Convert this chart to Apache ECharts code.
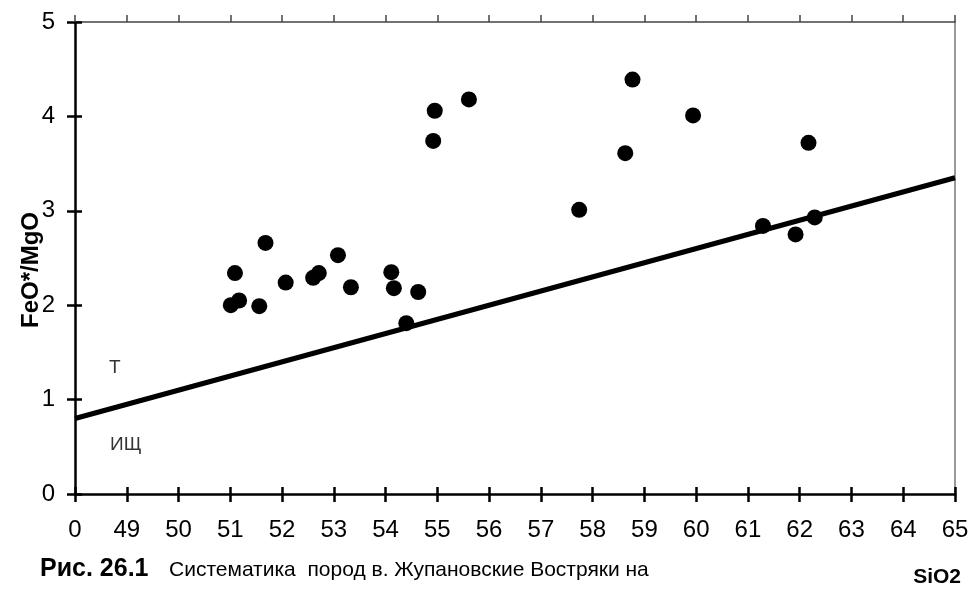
<!DOCTYPE html>
<html>
<head>
<meta charset="utf-8">
<script src="https://cdn.jsdelivr.net/npm/echarts@6/dist/echarts.min.js"></script>
<style>
  html, body { margin: 0; padding: 0; background: #fff; }
  #chart { width: 972px; height: 590px; }
</style>
</head>
<body>
<div id="chart"></div>
<script>
// SiO2 / FeO*/MgO samples
var sio2 = [51.01, 51.09, 51.17, 51.56, 51.68, 52.07, 52.6, 52.71, 53.08, 53.33,
            54.11, 54.16, 54.4, 54.63, 54.92, 54.95, 55.61, 57.74, 58.63, 58.77,
            59.94, 61.29, 61.92, 62.17, 62.29];
var feoMgo = [2.0, 2.34, 2.05, 1.99, 2.66, 2.24, 2.29, 2.34, 2.53, 2.19,
              2.35, 2.18, 1.81, 2.14, 3.74, 4.06, 4.18, 3.01, 3.61, 4.39,
              4.01, 2.84, 2.75, 3.72, 2.93];

// граница толеитовой (Т) и известково-щелочной (ИЩ) серий
var borderX = [48, 65];
var borderY = [0.8, 3.35];

var zoneNames = ['Т', 'ИЩ'];
var zoneX = [48.77, 48.98];
var zoneY = [1.34, 0.52];

var font = 'Liberation Sans, Arial, sans-serif';

var points = sio2.map(function (x, i) { return [x, feoMgo[i]]; });
var border = borderX.map(function (x, i) { return [x, borderY[i]]; });
var zones = zoneNames.map(function (n, i) { return { value: [zoneX[i], zoneY[i]], name: n }; });

var chart = echarts.init(document.getElementById('chart'));

chart.setOption({
    animation: false,
    backgroundColor: '#fff',
    grid: { left: 75, right: 17, top: 22, bottom: 96 },
    xAxis: [
        {
            type: 'value', position: 'bottom', min: 48, max: 65, interval: 1,
            axisLine: { onZero: false, lineStyle: { color: '#000', width: 2.5 } },
            axisTick: { length: 8, lineStyle: { color: '#000', width: 2.5 } },
            splitLine: { show: false },
            axisLabel: {
                color: '#000', fontSize: 24, fontFamily: font, margin: 24,
                formatter: function (v) { return v === 48 ? '0' : String(v); }
            }
        },
        {
            type: 'value', position: 'bottom', min: 48, max: 65, interval: 1,
            axisLine: { show: false },
            axisTick: { inside: true, length: 7, lineStyle: { color: '#000', width: 2.5 } },
            splitLine: { show: false }, axisLabel: { show: false }
        },
        {
            type: 'value', position: 'top', min: 48, max: 65, interval: 1,
            axisLine: { onZero: false, lineStyle: { color: '#444', width: 1.5 } },
            axisTick: { length: 7, lineStyle: { color: '#444', width: 1.5 } },
            splitLine: { show: false }, axisLabel: { show: false }
        }
    ],
    yAxis: [
        {
            type: 'value', position: 'left', min: 0, max: 5, interval: 1,
            name: 'FeO*/MgO', nameLocation: 'middle', nameGap: 32, nameRotate: 90,
            nameMoveOverlap: false,
            nameTextStyle: {
                color: '#000', fontSize: 24, fontWeight: 'bold', fontFamily: font,
                padding: [0, 24, 0, 0]
            },
            axisLine: { onZero: false, lineStyle: { color: '#000', width: 2.5 } },
            axisTick: { length: 8, lineStyle: { color: '#000', width: 2.5 } },
            splitLine: { show: false },
            axisLabel: { color: '#000', fontSize: 24, fontFamily: font, margin: 20 }
        },
        {
            type: 'value', position: 'left', min: 0, max: 5, interval: 1,
            axisLine: { show: false },
            axisTick: { inside: true, length: 7, lineStyle: { color: '#000', width: 2.5 } },
            splitLine: { show: false }, axisLabel: { show: false }
        },
        {
            type: 'value', position: 'right', min: 0, max: 5, interval: 1,
            axisLine: { onZero: false, lineStyle: { color: '#999', width: 2 } },
            axisTick: { show: false }, splitLine: { show: false }, axisLabel: { show: false }
        }
    ],
    series: [
        {
            type: 'line', data: border, showSymbol: false, symbol: 'none',
            lineStyle: { color: '#000', width: 5 }, z: 3
        },
        {
            type: 'scatter', data: points, symbol: 'circle', symbolSize: 16,
            itemStyle: { color: '#000', opacity: 1 }, z: 4
        },
        {
            type: 'scatter', data: zones, symbolSize: 0,
            label: {
                show: true, position: 'inside', formatter: '{b}',
                color: '#000', fontSize: 19, fontFamily: font
            }
        }
    ],
    graphic: [
        {
            type: 'text', x: 40, y: 569,
            style: {
                text: 'Рис. 26.1', fill: '#000', font: 'bold 25px ' + font,
                verticalAlign: 'middle'
            }
        },
        {
            type: 'text', x: 169, y: 570,
            style: {
                text: 'Систематика  пород в. Жупановские Востряки на', fill: '#000',
                font: '21px ' + font, verticalAlign: 'middle'
            }
        },
        {
            type: 'text', x: 961, y: 577,
            style: {
                text: 'SiO2', fill: '#000', font: 'bold 21px ' + font,
                align: 'right', verticalAlign: 'middle'
            }
        }
    ]
});
</script>
</body>
</html>
